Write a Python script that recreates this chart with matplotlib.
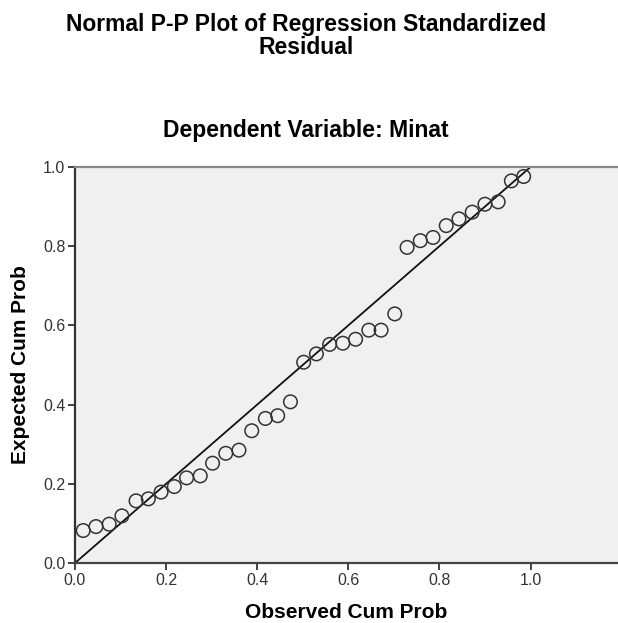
import matplotlib
matplotlib.use("Agg")
import matplotlib.pyplot as plt

observed = [0.018, 0.046, 0.075, 0.103, 0.134, 0.161, 0.189, 0.218, 0.245, 0.275,
            0.302, 0.331, 0.360, 0.388, 0.418, 0.445, 0.473, 0.502, 0.530, 0.559,
            0.588, 0.616, 0.645, 0.672, 0.702, 0.729, 0.758, 0.786, 0.815, 0.843,
            0.872, 0.900, 0.929, 0.958, 0.985]
expected = [0.082, 0.092, 0.098, 0.119, 0.157, 0.162, 0.179, 0.193, 0.215, 0.220,
            0.252, 0.277, 0.285, 0.334, 0.365, 0.372, 0.407, 0.507, 0.528, 0.552,
            0.555, 0.565, 0.588, 0.588, 0.629, 0.797, 0.814, 0.822, 0.852, 0.869,
            0.886, 0.906, 0.912, 0.965, 0.976]
ref_line = [0.0, 1.0]
ticks = [0.0, 0.2, 0.4, 0.6, 0.8, 1.0]
tick_labels = ["0.0", "0.2", "0.4", "0.6", "0.8", "1.0"]

plt.rcParams['font.family'] = ['Liberation Sans', 'DejaVu Sans']

W, H = 618, 623
fig = plt.figure(figsize=(W / 100, H / 100), dpi=100)
left, right, bottom, top = 75, 618, 563, 167
ax = fig.add_axes([left / W, (H - bottom) / H, (right - left) / W, (bottom - top) / H])
ax.set_facecolor('#f0f0f0')

ax.plot(ref_line, ref_line, color='#111111', lw=1.3, zorder=2)
ax.scatter(observed, expected, s=95, facecolors='none', edgecolors='#333333',
           linewidths=1.1, zorder=3)

ax.set_xlim(0, (right - left) / 455.5)
ax.set_ylim(0, 1.0)
ax.set_xticks(ticks)
ax.set_xticklabels(tick_labels)
ax.set_yticks(ticks)
ax.set_yticklabels(tick_labels)
ax.tick_params(axis='both', direction='out', length=5, width=1.3, color='#333333',
               labelsize=11.5, labelcolor='#333333', pad=2)

ax.spines['right'].set_visible(False)
ax.spines['left'].set_color('#333333')
ax.spines['left'].set_linewidth(1.6)
ax.spines['bottom'].set_color('#444444')
ax.spines['bottom'].set_linewidth(1.6)
ax.spines['top'].set_color('#888888')
ax.spines['top'].set_linewidth(1.6)

ax.set_xlabel('Observed Cum Prob', fontsize=15, fontweight='bold', labelpad=11)
ax.set_ylabel('Expected Cum Prob', fontsize=15, fontweight='bold', labelpad=9)

fig.text(306 / W, 1 - 25 / H, 'Normal P-P Plot of Regression Standardized',
         ha='center', va='center', fontsize=16.5, fontweight='bold')
fig.text(306 / W, 1 - 48 / H, 'Residual',
         ha='center', va='center', fontsize=16.5, fontweight='bold')
fig.text(306 / W, 1 - 131 / H, 'Dependent Variable: Minat',
         ha='center', va='center', fontsize=16.5, fontweight='bold')

fig.savefig('out.png', dpi=100)
